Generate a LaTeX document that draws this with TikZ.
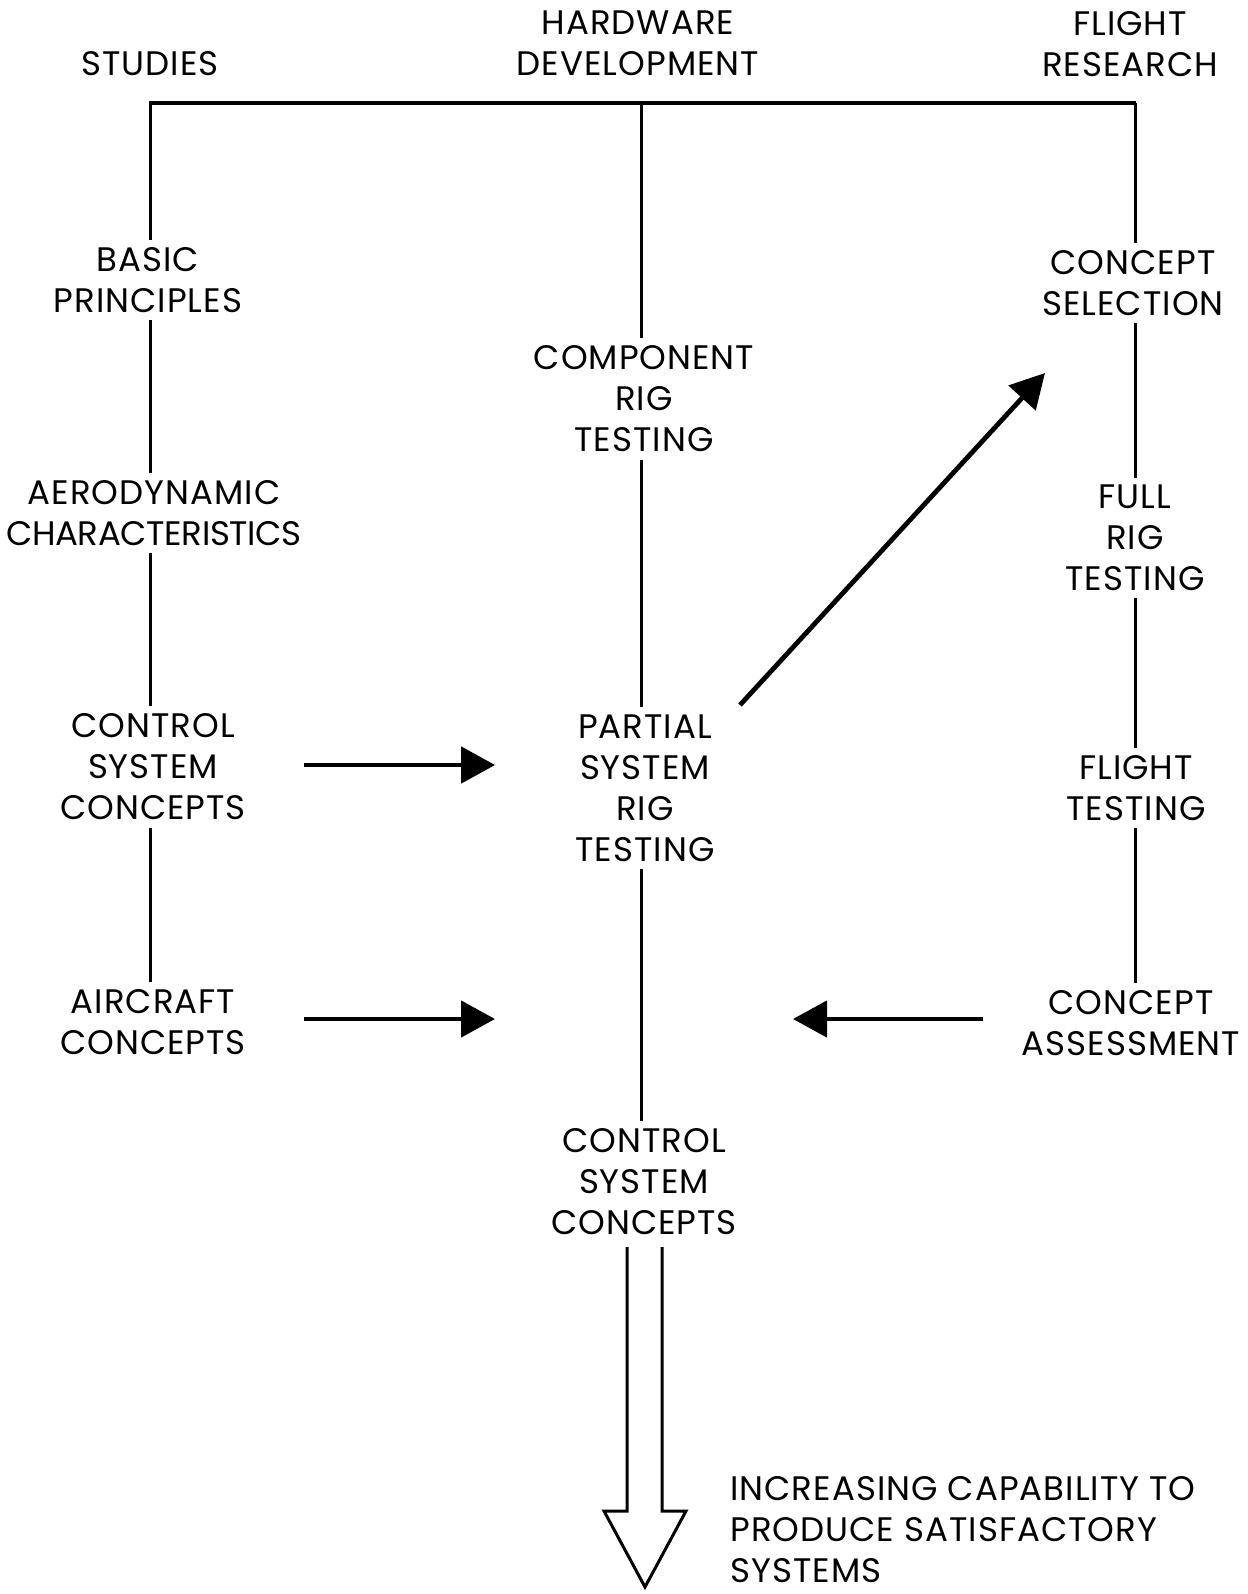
\documentclass[tikz,border=0pt]{standalone}
\usepackage{fontspec}
\setmainfont{Poppins}[LetterSpace=3]
\usetikzlibrary{arrows.meta,calc}
\newcommand{\lblfont}{\fontsize{17pt}{20.5pt}\selectfont}
\newcommand{\tight}{\addfontfeature{LetterSpace=-1}}
\begin{document}
\begin{tikzpicture}[x=0.5pt,y=-0.5pt,
  lbl/.style={align=center,inner xsep=2pt,inner ysep=3.5pt,font=\lblfont},
  link/.style={line width=1.5pt},
  bar/.style={line width=2.4pt},
  arr/.style={line width=2.4pt,-{Triangle[length=17pt,width=18pt]}},
  hollow/.style={line width=1.5pt,line join=miter}]
\useasboundingbox (0,0) rectangle (1247,1594);

% column headings
\node[lbl] (hs) at (150,64) {STUDIES};
\node[lbl] (hh) at (638,43) {HARDWARE\\DEVELOPMENT};
\node[lbl] (hf) at (1130,44) {FLIGHT\\RESEARCH};

% studies column
\node[lbl] (bp)  at (148,280) {BASIC\\PRINCIPLES};
\node[lbl] (ad)  at (154,513) {AERODYNAMIC\\{\tight CHARACTERISTICS}};
\node[lbl] (csl) at (153,767) {CONTROL\\SYSTEM\\CONCEPTS};
\node[lbl] (ac)  at (153,1022) {AIRCRAFT\\CONCEPTS};

% hardware column
\node[lbl] (crt) at (644,399) {COMPONENT\\RIG\\TESTING};
\node[lbl] (pst) at (645,788) {PARTIAL\\SYSTEM\\RIG\\TESTING};
\node[lbl] (csc) at (644,1182) {CONTROL\\SYSTEM\\CONCEPTS};

% flight research column
\node[lbl] (cs)  at (1133,283) {CONCEPT\\SELECTION};
\node[lbl] (frt) at (1135,538) {FULL\\RIG\\TESTING};
\node[lbl] (ft)  at (1136,788) {FLIGHT\\TESTING};
\node[lbl] (ca)  at (1131,1023) {CONCEPT\\ASSESSMENT};

% top bar
\coordinate (barL) at (150,103);
\coordinate (barM) at (641,103);
\coordinate (barR) at (1135,103);
\draw[bar] ($(barL)+(-1,0)$) -- ($(barR)+(1,0)$);

% vertical links
\draw[link] (barL) -- (barL |- bp.north);
\draw[link] (bp.south -| barL) -- (ad.north -| barL);
\draw[link] (ad.south -| barL) -- (csl.north -| barL);
\draw[link] (csl.south -| barL) -- (ac.north -| barL);

\draw[link] (barM) -- (barM |- crt.north);
\draw[link] (crt.south -| barM) -- (pst.north -| barM);
\draw[link] (pst.south -| barM) -- (csc.north -| barM);

\draw[link] (barR) -- (barR |- cs.north);
\draw[link] (cs.south -| barR) -- (frt.north -| barR);
\draw[link] (frt.south -| barR) -- (ft.north -| barR);
\draw[link] (ft.south -| barR) -- (ca.north -| barR);

% arrows
\coordinate (join) at (641,1019);
\coordinate (csy) at (0,765);
\draw[arr,shorten <=27pt,shorten >=38pt] (csl.east |- csy) -- (pst.west |- csy);
\draw[arr,shorten <=27pt,shorten >=73pt] (ac.east |- join) -- (join);
\draw[arr,shorten <=17pt,shorten >=76pt] (ca.west |- join) -- (join);
\coordinate (dstart) at (740,705);
\coordinate (dend) at (1045,373);
\draw[arr] (dstart) -- (dend);

% hollow output arrow
\coordinate (big) at (645,1247);
\draw[hollow] ($(big)+(-18,0)$) -- ++(0,264) -- ++(-23,0) -- (645,1587)
  -- ($(big)+(41,264)$) -- ++(-24,0) -- ++(0,-264);

\node[lbl,align=left,anchor=west] (cap) at (726,1530)
  {INCREASING CAPABILITY TO\\PRODUCE SATISFACTORY\\SYSTEMS};
\end{tikzpicture}
\end{document}
